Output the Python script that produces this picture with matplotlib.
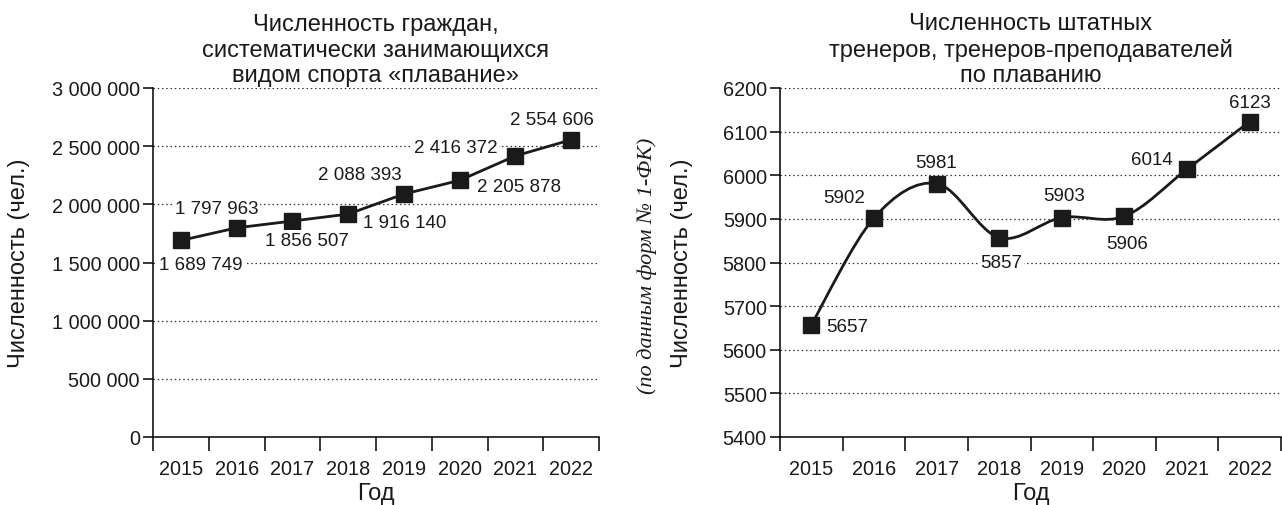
import matplotlib
matplotlib.use("Agg")
import matplotlib.pyplot as plt
import numpy as np
from matplotlib.path import Path
from matplotlib.patches import PathPatch
from matplotlib.ticker import FixedLocator, NullFormatter, FuncFormatter

plt.rcParams['font.family'] = ['Liberation Sans', 'DejaVu Sans']

years = ['2015', '2016', '2017', '2018', '2019', '2020', '2021', '2022']
citizens = [1689749, 1797963, 1856507, 1916140, 2088393, 2205878, 2416372, 2554606]
coaches = [5657, 5902, 5981, 5857, 5903, 5906, 6014, 6123]

left_title = 'Численность граждан,\nсистематически занимающихся\nвидом спорта «плавание»'
right_title = 'Численность штатных\nтренеров, тренеров-преподавателей\nпо плаванию'
ylabel = 'Численность (чел.)'
xlabel = 'Год'
source_note = '(по данным форм № 1-ФК)'

# label offsets from marker, in pixels (dx, dy)
left_offsets = [(20, -24), (-20, 19), (15, -19), (57, -8), (-44, 20), (59, -6), (-60, 8), (-19, 20)]
right_offsets = [(36, -2), (-30, 21), (0, 21), (2, -25), (2, 22), (3, -27), (-35, 10), (0, 19)]

TICK_FS = 14.3
LABEL_FS = 13.5
BIG_FS = 17
INK = '#1a1a1a'


def spaced(v):
    return f'{int(v):,}'.replace(',', ' ')


def plain(v):
    return f'{int(v)}'


def smooth_path(x, y, t=1 / 6):
    n = len(x)
    verts = [(x[0], y[0])]
    codes = [Path.MOVETO]
    for i in range(n - 1):
        a = max(i - 1, 0)
        b = min(i + 2, n - 1)
        c1 = (x[i] + (x[i + 1] - x[a]) * t, y[i] + (y[i + 1] - y[a]) * t)
        c2 = (x[i + 1] - (x[b] - x[i]) * t, y[i + 1] - (y[b] - y[i]) * t)
        verts += [c1, c2, (x[i + 1], y[i + 1])]
        codes += [Path.CURVE4] * 3
    return Path(verts, codes)


def style_axes(ax, ymin, ymax, step, grid_from, fmt):
    n = len(years)
    ax.set_xlim(0, n)
    ax.set_ylim(ymin, ymax)
    ax.spines['top'].set_visible(False)
    ax.spines['right'].set_visible(False)
    ax.spines['left'].set_linewidth(1.1)
    ax.spines['bottom'].set_linewidth(1.1)
    ax.xaxis.set_major_locator(FixedLocator(np.arange(0, n + 1)))
    ax.xaxis.set_major_formatter(NullFormatter())
    ax.set_xticks(np.arange(n) + 0.5, years, minor=True)
    ax.tick_params(axis='x', which='major', direction='out', length=10, width=1.1)
    ax.tick_params(axis='x', which='minor', length=0, pad=16, labelsize=TICK_FS, colors=INK)
    ticks = np.arange(ymin, ymax + step / 2, step)
    ax.set_yticks(ticks)
    ax.yaxis.set_major_formatter(FuncFormatter(lambda v, p: fmt(v)))
    ax.tick_params(axis='y', direction='out', length=7, width=1.1, pad=2.5, labelsize=TICK_FS,
                   labelcolor=INK)
    for v in ticks:
        if v >= grid_from:
            ax.axhline(v, color='#333333', lw=0.9, ls=(0, (1.2, 2.2)), zorder=0)
    ax.set_xlabel(xlabel, fontsize=BIG_FS, color=INK)
    ax.xaxis.set_label_coords(0.5, -0.128)


def label_points(ax, xs, vals, offsets, fmt):
    for x, v, (dx, dy) in zip(xs, vals, offsets):
        ax.annotate(fmt(v), (x, v), xytext=(dx, dy), textcoords='offset pixels',
                    ha='center', va='center', fontsize=LABEL_FS, color=INK, zorder=4,
                    bbox=dict(boxstyle='square,pad=0.1', fc='white', ec='none'))


fig = plt.figure(figsize=(12.82, 5.06), dpi=100)
ax1 = fig.add_axes([153 / 1282, 1 - 438 / 506, 446 / 1282, 349 / 506])
ax2 = fig.add_axes([780 / 1282, 1 - 438 / 506, 501 / 1282, 349 / 506])

xs = np.arange(len(years)) + 0.5

# left chart
style_axes(ax1, 0, 3000000, 500000, 500000, spaced)
ax1.plot(xs, citizens, color=INK, lw=2, marker='s', ms=11.5, zorder=3)
label_points(ax1, xs, citizens, left_offsets, spaced)
ax1.set_title(left_title, fontsize=BIG_FS, linespacing=1.2, pad=5, color=INK)
ax1.set_ylabel(ylabel, fontsize=BIG_FS, color=INK)
ax1.yaxis.set_label_coords((30 - 153) / 446, 0.5)

# right chart
style_axes(ax2, 5400, 6200, 100, 5500, plain)
curve = smooth_path(xs, coaches)
ax2.add_patch(PathPatch(curve, fc='none', ec=INK, lw=2, zorder=3))
ax2.plot(xs, coaches, ls='none', color=INK, marker='s', ms=11.5, zorder=3)
label_points(ax2, xs, coaches, right_offsets, plain)
ax2.set_title(right_title, fontsize=BIG_FS, linespacing=1.2, pad=5, color=INK)
ax2.set_ylabel(ylabel, fontsize=BIG_FS, color=INK)
ax2.yaxis.set_label_coords((693 - 780) / 501, 0.5)

fig.text(647 / 1282, 1 - 266 / 506, source_note, rotation=90, ha='center', va='center',
         fontsize=16, family=['Liberation Serif', 'DejaVu Serif'], style='italic', color=INK)

fig.savefig('out.png', dpi=100)
